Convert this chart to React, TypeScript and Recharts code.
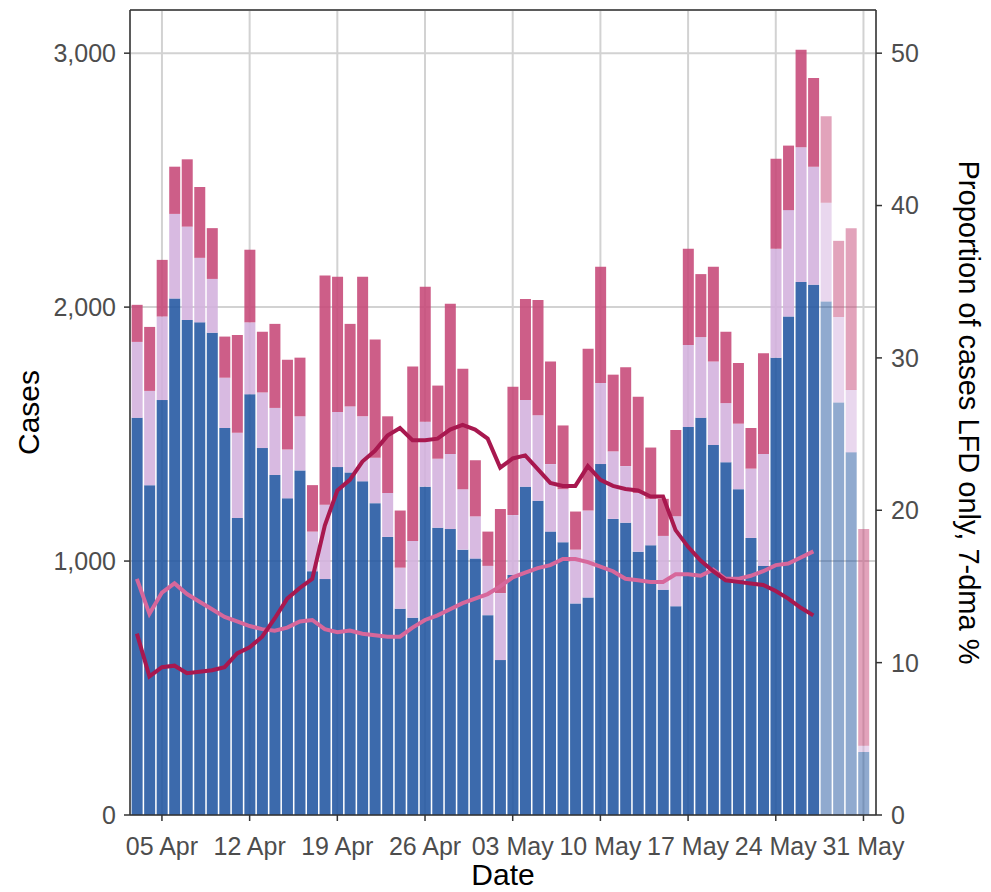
import { ComposedChart, Bar, Line, Cell, XAxis, YAxis, CartesianGrid, ReferenceLine } from 'recharts';

// daily labels, 03 Apr .. 31 May
const DATES = [
  '03 Apr', '04 Apr', '05 Apr', '06 Apr', '07 Apr', '08 Apr', '09 Apr', '10 Apr', '11 Apr', '12 Apr',
  '13 Apr', '14 Apr', '15 Apr', '16 Apr', '17 Apr', '18 Apr', '19 Apr', '20 Apr', '21 Apr', '22 Apr',
  '23 Apr', '24 Apr', '25 Apr', '26 Apr', '27 Apr', '28 Apr', '29 Apr', '30 Apr', '01 May', '02 May',
  '03 May', '04 May', '05 May', '06 May', '07 May', '08 May', '09 May', '10 May', '11 May', '12 May',
  '13 May', '14 May', '15 May', '16 May', '17 May', '18 May', '19 May', '20 May', '21 May', '22 May',
  '23 May', '24 May', '25 May', '26 May', '27 May', '28 May', '29 May', '30 May', '31 May',
];

// stacked case counts (bottom -> top)
const PCR_ONLY = [
  1564, 1299, 1634, 2034, 1949, 1940, 1899, 1524, 1170, 1657,
  1445, 1339, 1247, 1357, 960, 929, 1370, 1349, 1314, 1228,
  1095, 812, 777, 1293, 1131, 1126, 1045, 1010, 787, 610,
  945, 1293, 1237, 1116, 1074, 833, 856, 1382, 1166, 1151,
  1037, 1062, 887, 822, 1528, 1564, 1457, 1389, 1283, 1091,
  981, 1801, 1963, 2099, 2088, 2022, 1624, 1428, 248,
];
const BOTH = [
  299, 371, 329, 333, 368, 254, 212, 198, 335, 283,
  219, 264, 192, 213, 156, 293, 217, 260, 256, 179,
  173, 162, 302, 256, 272, 296, 238, 166, 194, 264,
  236, 341, 337, 266, 209, 212, 343, 319, 266, 223,
  231, 183, 212, 354, 323, 318, 329, 233, 258, 273,
  441, 429, 419, 531, 465, 389, 337, 246, 25,
];
const LFD_ONLY = [
  146, 252, 223, 186, 265, 279, 200, 162, 385, 286,
  239, 331, 354, 231, 183, 902, 533, 325, 550, 465,
  302, 225, 687, 531, 288, 591, 474, 221, 135, 331,
  505, 398, 454, 404, 251, 150, 637, 458, 302, 389,
  379, 202, 146, 340, 379, 248, 373, 281, 239, 160,
  396, 354, 254, 383, 349, 341, 300, 637, 853,
];

// 7-day averages, % (right axis); last days not yet available
const LFD_PCT = [
  11.9, 9.1, 9.7, 9.8, 9.3, 9.4, 9.5, 9.7, 10.6, 11.0,
  11.7, 12.9, 14.2, 14.9, 15.5, 19.0, 21.3, 22.0, 23.2, 23.9,
  24.9, 25.4, 24.6, 24.6, 24.7, 25.3, 25.6, 25.3, 24.7, 22.8,
  23.4, 23.6, 22.7, 21.8, 21.6, 21.6, 22.9, 22.0, 21.6, 21.4,
  21.3, 20.9, 20.9, 18.7, 17.6, 16.7, 16.0, 15.4, 15.3, 15.2,
  15.1, 14.7, 14.2, 13.6, 13.1, null, null, null, null,
];
const OTHER_PCT = [
  15.5, 13.2, 14.6, 15.2, 14.5, 14.0, 13.5, 13.0, 12.7, 12.4,
  12.2, 12.1, 12.3, 12.7, 12.8, 12.2, 12.0, 12.1, 11.9, 11.8,
  11.7, 11.7, 12.3, 12.8, 13.1, 13.5, 13.9, 14.2, 14.5, 15.0,
  15.6, 15.9, 16.2, 16.4, 16.8, 16.8, 16.6, 16.3, 16.0, 15.5,
  15.4, 15.3, 15.3, 15.8, 15.8, 15.7, 16.1, 15.5, 15.5, 15.7,
  16.0, 16.4, 16.5, 16.9, 17.3, null, null, null, null,
];

const INCOMPLETE_FROM = 55; // last four days drawn faded
const X_TICKS = [2, 9, 16, 23, 30, 37, 44, 51, 58];
const Y_TICKS = [0, 1000, 2000, 3000];
const Y2_TICKS = [0, 10, 20, 30, 40, 50];
const Y_MAX = 3170;

const FONT = '"Liberation Sans", Arial, sans-serif';
const TICK_STYLE = { fill: '#4D4D4D', fontSize: 25, fontFamily: FONT };
const AXIS_LINE = { stroke: '#333333', strokeWidth: 1.5 };

const rows = DATES.map((d, i) => ({
  idx: i,
  date: d,
  pcr: PCR_ONLY[i],
  both: BOTH[i],
  lfd: LFD_ONLY[i],
  lfdPct: LFD_PCT[i],
  otherPct: OTHER_PCT[i],
}));

const opac = (i: number) => (i >= INCOMPLETE_FROM ? 0.5 : 0.88);

export default function App() {
  return (
    <div style={{ position: 'absolute', left: 0, top: 0, width: 991, height: 892, background: '#fff' }}>
      <ComposedChart width={991} height={892} data={rows} margin={{ top: 10, right: 0, bottom: 0, left: 0 }}>
        <CartesianGrid yAxisId="left" stroke="#D2D2D2" strokeWidth={2} />
        <XAxis
          dataKey="idx"
          type="number"
          domain={[-0.55, 59]}
          ticks={X_TICKS}
          tickFormatter={(v: number) => DATES[v]}
          height={77}
          tickSize={6}
          tickMargin={16}
          interval={0}
          tick={TICK_STYLE}
          axisLine={AXIS_LINE}
          tickLine={AXIS_LINE}
          label={{ value: 'Date', position: 'insideBottom', offset: 7, style: { fill: '#000', fontSize: 30, fontFamily: FONT } }}
        />
        <YAxis
          yAxisId="left"
          width={130}
          domain={[0, Y_MAX]}
          ticks={Y_TICKS}
          tickFormatter={(v: number) => v.toLocaleString('en-US')}
          tickSize={6}
          tickMargin={8}
          tick={TICK_STYLE}
          axisLine={AXIS_LINE}
          tickLine={AXIS_LINE}
          label={{ value: 'Cases', angle: -90, position: 'insideLeft', offset: 28, style: { textAnchor: 'middle', fill: '#000', fontSize: 30, fontFamily: FONT } }}
        />
        <YAxis
          yAxisId="right"
          orientation="right"
          width={115}
          domain={[0, Y_MAX / 60]}
          ticks={Y2_TICKS}
          tickSize={6}
          tickMargin={9}
          tick={TICK_STYLE}
          axisLine={AXIS_LINE}
          tickLine={AXIS_LINE}
          label={{ value: 'Proportion of cases LFD only, 7-dma %', angle: 90, position: 'insideRight', offset: 22, style: { textAnchor: 'middle', fill: '#000', fontSize: 29, fontFamily: FONT } }}
        />
        <ReferenceLine yAxisId="left" y={Y_MAX} stroke="#333333" strokeWidth={1.5} />

        <Bar dataKey="pcr" stackId="c" yAxisId="left" barSize={11} isAnimationActive={false}>
          {rows.map((r, i) => <Cell key={`p-${i}`} fill="#2155A0" fillOpacity={opac(i)} />)}
        </Bar>
        <Bar dataKey="both" stackId="c" yAxisId="left" barSize={11} isAnimationActive={false}>
          {rows.map((r, i) => <Cell key={`b-${i}`} fill="#D3B0DD" fillOpacity={opac(i)} />)}
        </Bar>
        <Bar dataKey="lfd" stackId="c" yAxisId="left" barSize={11} isAnimationActive={false}>
          {rows.map((r, i) => <Cell key={`l-${i}`} fill="#C64877" fillOpacity={opac(i)} />)}
        </Bar>

        <Line dataKey="otherPct" yAxisId="right" type="linear" stroke="#D7679B" strokeWidth={4} dot={false} isAnimationActive={false} />
        <Line dataKey="lfdPct" yAxisId="right" type="linear" stroke="#A8184F" strokeWidth={4} dot={false} isAnimationActive={false} />
      </ComposedChart>
    </div>
  );
}
